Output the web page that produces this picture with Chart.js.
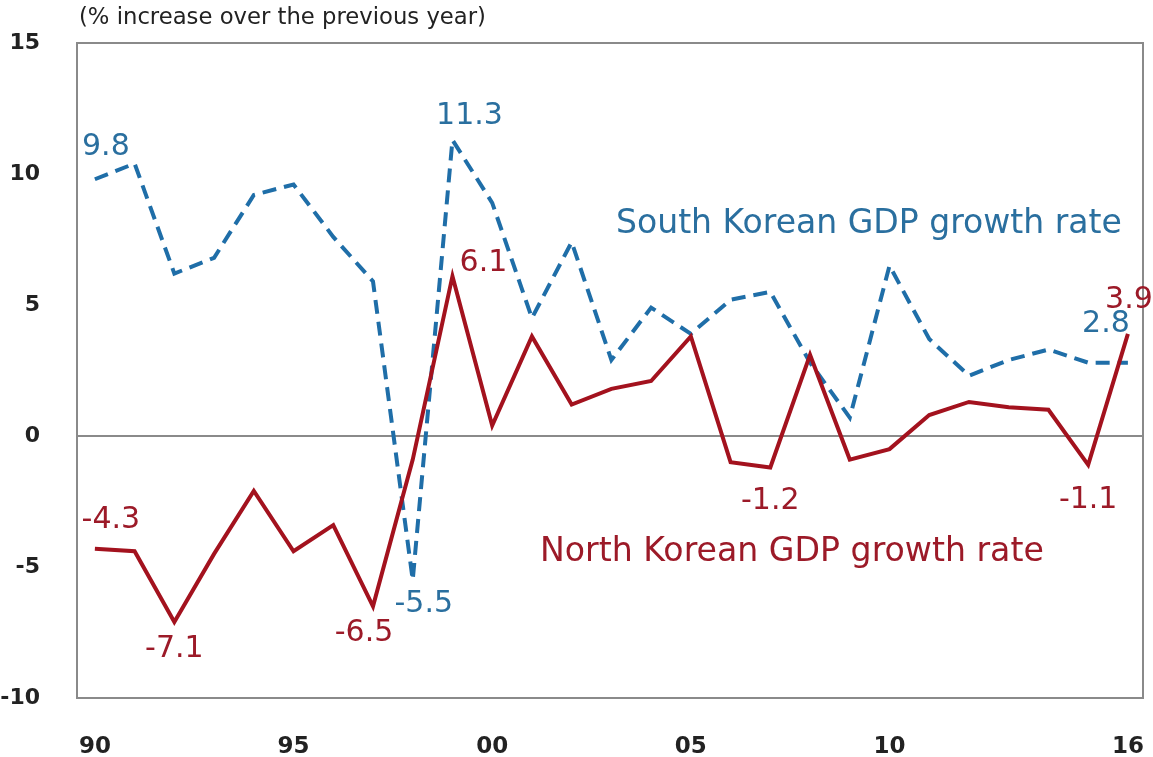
<!DOCTYPE html>
<html>
<head>
<meta charset="utf-8">
<title>Korean GDP growth rates</title>
<script src="https://cdn.jsdelivr.net/npm/chart.js@4.4.0/dist/chart.umd.min.js"></script>
<style>
  html, body { margin: 0; padding: 0; background: #ffffff; }
  #wrap { width: 1153px; height: 757px; position: relative; }
</style>
</head>
<body>
<div id="wrap"><canvas id="c"></canvas></div>
<script>
// Annual real GDP growth, % over the previous year
const years = [1990,1991,1992,1993,1994,1995,1996,1997,1998,1999,2000,2001,2002,2003,2004,2005,2006,2007,2008,2009,2010,2011,2012,2013,2014,2015,2016];
const southKorea = [9.8,10.4,6.2,6.8,9.2,9.6,7.6,5.9,-5.5,11.3,8.9,4.5,7.4,2.9,4.9,3.9,5.2,5.5,2.8,0.7,6.5,3.7,2.3,2.9,3.3,2.8,2.8];
const northKorea = [-4.3,-4.4,-7.1,-4.5,-2.1,-4.4,-3.4,-6.5,-0.9,6.1,0.4,3.8,1.2,1.8,2.1,3.8,-1.0,-1.2,3.1,-0.9,-0.5,0.8,1.3,1.1,1.0,-1.1,3.9];
const xTickYears = [1990,1995,2000,2005,2010,2016];
const yTickValues = [-10,-5,0,5,10,15];
const unitNote = '(% increase over the previous year)';
const southName = 'South Korean GDP growth rate';
const northName = 'North Korean GDP growth rate';

// Years whose values get a printed label
const southLabelled = [1990,1999,1998,2016];
const northLabelled = [1990,1992,1997,1999,2007,2015,2016];

const BLUE = '#1f6ea8';
const BLUE_TEXT = '#2a6f9f';
const RED = '#a3121e';
const RED_TEXT = '#9c1a28';
const FONT = '"DejaVu Sans", "Noto Sans", sans-serif';

// label placement relative to its point (pixels)
const labelOffsets = {
  south: {1990: [11, -32], 1999: [17, -24], 1998: [11, 24], 2016: [-22, -38]},
  north: {1990: [16, -28], 1992: [0, 27], 1997: [-9, 27], 1999: [31, -13], 2007: [0, 34], 2015: [0, 35], 2016: [1, -34]}
};

const toPoints = arr => years.map((y, i) => ({x: y, y: arr[i]}));

// pick a font size so that a string spans the given width
function fitFont(ctx, text, width, weight) {
  ctx.font = weight + ' 100px ' + FONT;
  const size = 100 * width / ctx.measureText(text).width;
  return weight + ' ' + size.toFixed(2) + 'px ' + FONT;
}

const frameAndText = {
  id: 'frameAndText',
  beforeDatasetsDraw(chart) {
    const {ctx, chartArea: a} = chart;
    ctx.save();
    ctx.strokeStyle = '#8a8a8a';
    ctx.lineWidth = 2;
    ctx.strokeRect(a.left, a.top, a.right - a.left, a.bottom - a.top);
    ctx.restore();
  },
  afterDatasetsDraw(chart) {
    const {ctx, chartArea: a} = chart;
    ctx.save();
    ctx.textBaseline = 'middle';
    ctx.textAlign = 'left';

    // unit note above the frame
    ctx.fillStyle = '#222222';
    ctx.font = fitFont(ctx, unitNote, 407, 'normal');
    ctx.fillText(unitNote, a.left + 2, 18);

    // series names
    ctx.font = fitFont(ctx, southName, 506, 'normal');
    ctx.fillStyle = BLUE_TEXT;
    ctx.fillText(southName, 616, 224);
    ctx.font = fitFont(ctx, northName, 504, 'normal');
    ctx.fillStyle = RED_TEXT;
    ctx.fillText(northName, 540, 552);

    // value labels
    ctx.font = '30px ' + FONT;
    ctx.textAlign = 'center';
    const drawLabels = (dsIndex, list, offs, color) => {
      const meta = chart.getDatasetMeta(dsIndex);
      const data = chart.data.datasets[dsIndex].data;
      ctx.fillStyle = color;
      list.forEach(yr => {
        const i = years.indexOf(yr);
        const pt = meta.data[i];
        const [dx, dy] = offs[yr];
        ctx.fillText(data[i].y.toFixed(1), pt.x + dx, pt.y + dy);
      });
    };
    drawLabels(1, southLabelled, labelOffsets.south, BLUE_TEXT);
    drawLabels(0, northLabelled, labelOffsets.north, RED_TEXT);
    ctx.restore();
  }
};

new Chart(document.getElementById('c'), {
  type: 'line',
  data: {
    datasets: [
      {
        label: northName,
        data: toPoints(northKorea),
        borderColor: RED,
        borderWidth: 4,
        pointRadius: 0,
        tension: 0,
        order: 0
      },
      {
        label: southName,
        data: toPoints(southKorea),
        borderColor: BLUE,
        borderWidth: 4,
        borderDash: [14, 8],
        pointRadius: 0,
        tension: 0,
        order: 1
      }
    ]
  },
  options: {
    responsive: true,
    maintainAspectRatio: false,
    animation: false,
    layout: { padding: { top: 43, right: 10, left: 0, bottom: 0 } },
    plugins: {
      legend: { display: false },
      tooltip: { enabled: false }
    },
    scales: {
      x: {
        type: 'linear',
        min: 1989.55,
        max: 2016.38,
        afterBuildTicks: s => { s.ticks = xTickYears.map(v => ({value: v})); },
        afterFit: s => { s.height = 59; s.paddingLeft = 0; s.paddingRight = 0; },
        grid: { display: false, drawTicks: false },
        border: { display: false },
        ticks: {
          padding: 35,
          color: '#222222',
          font: { family: FONT, size: 23, weight: 'bold' },
          maxRotation: 0,
          autoSkip: false,
          callback: v => String(v % 100).padStart(2, '0')
        }
      },
      y: {
        min: -10,
        max: 15,
        afterBuildTicks: s => { s.ticks = yTickValues.map(v => ({value: v})); },
        afterFit: s => { s.width = 77; s.paddingTop = 0; s.paddingBottom = 0; },
        grid: {
          drawTicks: false,
          lineWidth: 2,
          color: c => (c.tick && c.tick.value === 0) ? '#8a8a8a' : 'rgba(0,0,0,0)'
        },
        border: { display: false },
        ticks: {
          padding: 37,
          color: '#222222',
          font: { family: FONT, size: 22, weight: 'bold' }
        }
      }
    }
  },
  plugins: [frameAndText]
});
</script>
</body>
</html>
